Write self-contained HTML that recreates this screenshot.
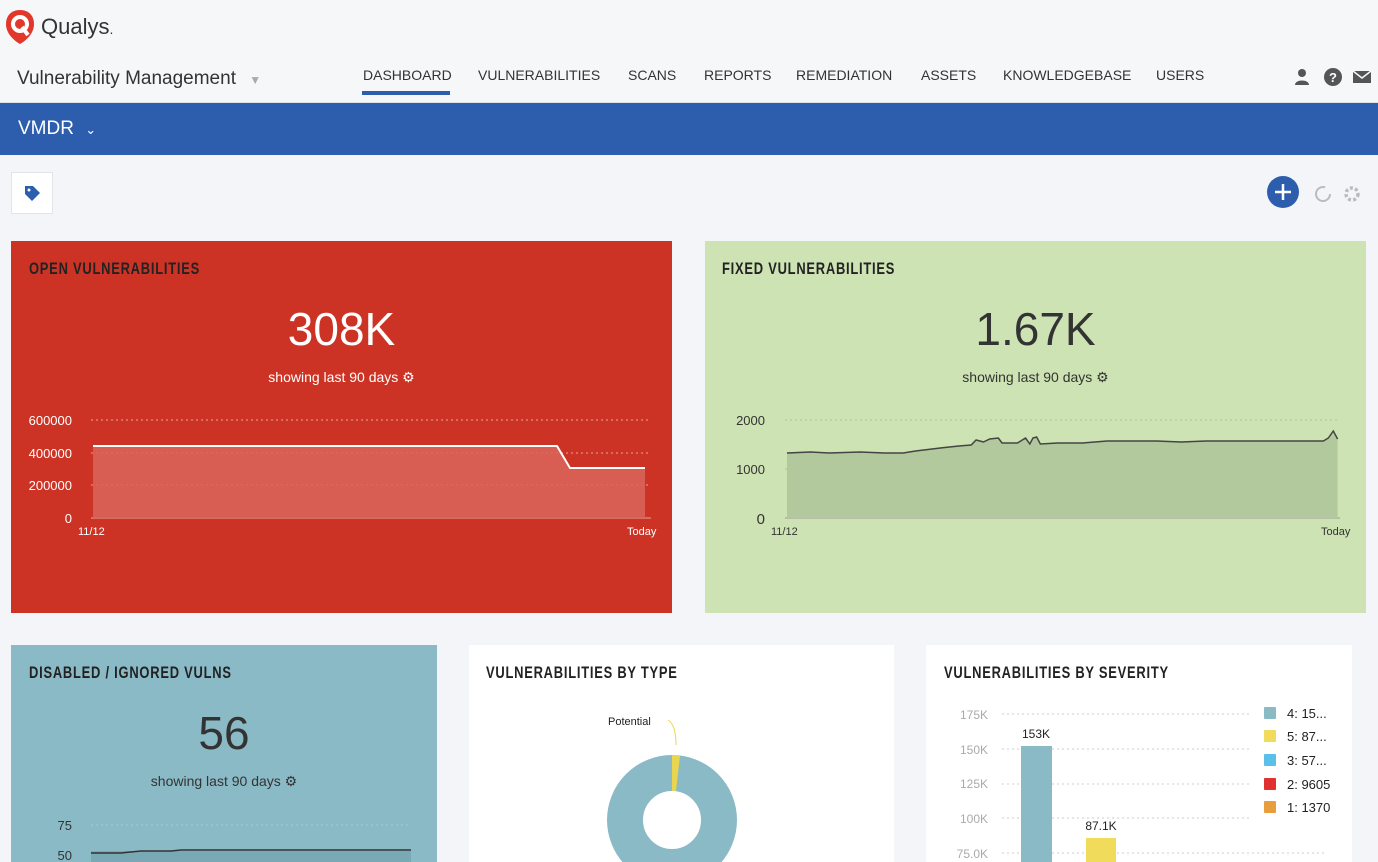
<!DOCTYPE html>
<html><head><meta charset="utf-8"><style>
*{margin:0;padding:0;box-sizing:border-box}
body{width:1378px;height:862px;overflow:hidden;background:#f3f5f8;font-family:"Liberation Sans",sans-serif;position:relative}
.a{position:absolute}
.nav{font-size:14px;color:#333;letter-spacing:0;top:67px}
.title{font-family:"Liberation Sans Narrow","Liberation Sans",sans-serif;font-size:17px;font-weight:bold;letter-spacing:1px;transform:scaleX(.76);transform-origin:left;color:#222;white-space:nowrap}
.card{position:absolute}
.big{font-size:46px;font-weight:300}
</style></head><body>
<div class="a" style="left:0;top:0;width:1378px;height:103px;background:#f6f7f8;border-bottom:1px solid #dfe2e6"></div>
<svg class="a" style="left:4px;top:9px" width="32" height="36" viewBox="0 0 32 36"><path d="M16 1C7 1 2 7 2 15c0 9 7 16 14 20 7-4 14-11 14-20C30 7 25 1 16 1z" fill="#e2372b"/><circle cx="16" cy="15" r="7" fill="none" stroke="#fff" stroke-width="4"/><path d="M18 18l6 8" stroke="#fff" stroke-width="4"/></svg>
<div class="a" style="left:41px;top:14px;font-size:22px;color:#333">Qualys<span style="font-size:14px">.</span></div>
<div class="a" style="left:17px;top:68px;font-size:19px;color:#333">Vulnerability Management <span style="color:#aaa;font-size:12px;margin-left:8px">▼</span></div>
<div class="a nav" style="left:363px">DASHBOARD</div>
<div class="a" style="left:362px;top:91px;width:88px;height:4px;background:#2d5eae"></div>
<div class="a nav" style="left:478px">VULNERABILITIES</div>
<div class="a nav" style="left:628px">SCANS</div>
<div class="a nav" style="left:704px">REPORTS</div>
<div class="a nav" style="left:796px">REMEDIATION</div>
<div class="a nav" style="left:921px">ASSETS</div>
<div class="a nav" style="left:1003px">KNOWLEDGEBASE</div>
<div class="a nav" style="left:1156px">USERS</div>
<svg class="a" style="left:1292px;top:67px" width="80" height="20"><circle cx="10" cy="6" r="4" fill="#555"/><path d="M3 18c0-6 14-6 14 0z" fill="#555"/><circle cx="41" cy="10" r="9" fill="#555"/><text x="41" y="15" fill="#fff" font-size="13" font-weight="bold" text-anchor="middle" font-family="Liberation Sans">?</text><rect x="61" y="4" width="18" height="12" fill="#555"/><path d="M61 4l9 7 9-7" stroke="#f6f7f8" fill="none" stroke-width="1.5"/></svg>
<div class="a" style="left:0;top:103px;width:1378px;height:52px;background:#2d5eae"></div>
<div class="a" style="left:18px;top:118px;font-size:19px;color:#fff">VMDR <span style="font-size:13px;margin-left:6px">⌄</span></div>
<div class="a" style="left:11px;top:172px;width:42px;height:42px;background:#fff;border:1px solid #e2e4e8"></div>
<svg class="a" style="left:23px;top:184px" width="18" height="18"><path d="M2 2h8l7 7-8 8-7-7z" fill="#2d5eae"/><circle cx="6" cy="6" r="1.5" fill="#fff"/></svg>
<svg class="a" style="left:1265px;top:174px" width="100" height="38"><circle cx="18" cy="18" r="16" fill="#2d5eae"/><path d="M18 10v16M10 18h16" stroke="#fff" stroke-width="2.5"/><circle cx="58" cy="20" r="7" fill="none" stroke="#bbb" stroke-width="2" stroke-dasharray="35 10"/><circle cx="87" cy="20" r="6" fill="none" stroke="#bbb" stroke-width="3.5" stroke-dasharray="3 2.2"/><circle cx="87" cy="20" r="2.5" fill="#f3f5f8"/></svg>

<!-- red card -->
<div class="card" style="left:11px;top:241px;width:661px;height:372px;background:#cd3325"></div>
<div class="a title" style="left:29px;top:259px">OPEN VULNERABILITIES</div>
<div class="a big" style="left:11px;top:302px;width:661px;text-align:center;color:#fff">308K</div>
<div class="a" style="left:11px;top:369px;width:661px;text-align:center;font-size:14px;color:#fff">showing last 90 days ⚙</div>
<svg class="a" style="left:11px;top:400px" width="661" height="150" font-family="Liberation Sans" font-size="13">
<g fill="#fff" text-anchor="end"><text x="61" y="25">600000</text><text x="61" y="58">400000</text><text x="61" y="90">200000</text><text x="61" y="123">0</text></g>
<g stroke="#e8a39d" stroke-dasharray="2 3"><line x1="80" y1="20" x2="640" y2="20"/><line x1="80" y1="53" x2="640" y2="53"/><line x1="80" y1="85" x2="640" y2="85"/></g>
<line x1="80" y1="118" x2="640" y2="118" stroke="#e8a39d"/>
<path d="M82 46H546L559 68H634V118H82z" fill="#d9655a" fill-opacity=".85"/>
<path d="M82 46H546L559 68H634" stroke="#fff" stroke-width="2" fill="none"/>
<g fill="#fff" font-size="11"><text x="67" y="135">11/12</text><text x="616" y="135">Today</text></g>
</svg>

<!-- green card -->
<div class="card" style="left:705px;top:241px;width:661px;height:372px;background:#cde3b3"></div>
<div class="a title" style="left:722px;top:259px">FIXED VULNERABILITIES</div>
<div class="a big" style="left:705px;top:302px;width:661px;text-align:center;color:#333">1.67K</div>
<div class="a" style="left:705px;top:369px;width:661px;text-align:center;font-size:14px;color:#333">showing last 90 days ⚙</div>
<svg class="a" style="left:705px;top:400px" width="661" height="150" font-family="Liberation Sans" font-size="13">
<g fill="#333" text-anchor="end"><text x="60" y="25">2000</text><text x="60" y="74">1000</text><text x="60" y="124" font-size="15">0</text></g>
<g stroke="#aac59a" stroke-dasharray="2 3"><line x1="80" y1="20" x2="635" y2="20"/><line x1="80" y1="69" x2="635" y2="69"/></g>
<line x1="80" y1="118" x2="635" y2="118" stroke="#999"/>
<g transform="translate(31.3 0) scale(0.618 1)">
<path d="M82 53L120 52L150 53L200 52L240 53L270 53L290 51L330 48L360 46L380 45L388 40L400 42L410 39L424 38L430 43L455 43L468 38L475 44L480 38L486 37L492 44L520 43L560 43L600 41L640 41L680 41L720 42L760 41L800 41L840 41L880 41L920 41L940 41L950 41L958 38L966 31L973 39L973 118L82 118z" fill="#b1c99d"/>
<path d="M82 53L120 52L150 53L200 52L240 53L270 53L290 51L330 48L360 46L380 45L388 40L400 42L410 39L424 38L430 43L455 43L468 38L475 44L480 38L486 37L492 44L520 43L560 43L600 41L640 41L680 41L720 42L760 41L800 41L840 41L880 41L920 41L940 41L950 41L958 38L966 31L973 39" fill="none" stroke="#444" stroke-width="1.5" vector-effect="non-scaling-stroke"/>
</g>
<g fill="#333" font-size="11"><text x="66" y="135">11/12</text><text x="616" y="135">Today</text></g>
</svg>

<!-- teal card -->
<div class="card" style="left:11px;top:645px;width:426px;height:217px;background:#8bbac7"></div>
<div class="a title" style="left:29px;top:663px">DISABLED / IGNORED VULNS</div>
<div class="a big" style="left:11px;top:706px;width:426px;text-align:center;color:#333">56</div>
<div class="a" style="left:11px;top:773px;width:426px;text-align:center;font-size:14px;color:#333">showing last 90 days ⚙</div>
<svg class="a" style="left:11px;top:810px" width="426" height="52" font-family="Liberation Sans" font-size="13">
<g fill="#333" text-anchor="end"><text x="61" y="20">75</text><text x="61" y="50">50</text></g>
<line x1="80" y1="15" x2="400" y2="15" stroke="#a8cbd5" stroke-dasharray="2 3"/>
<rect x="80" y="41" width="320" height="13" fill="#7aa9b6"/>
<path d="M80 43H110L130 41H160L170 40H400" stroke="#333" stroke-width="1.5" fill="none"/>
</svg>

<!-- by type -->
<div class="card" style="left:469px;top:645px;width:425px;height:217px;background:#fff"></div>
<div class="a title" style="left:486px;top:663px">VULNERABILITIES BY TYPE</div>
<svg class="a" style="left:469px;top:700px" width="425" height="162" font-family="Liberation Sans">
<text x="139" y="25" font-size="11" fill="#222">Potential</text>
<path d="M199 20q8 5 8 25" stroke="#e9d64e" fill="none"/>
<circle cx="203" cy="120" r="47" fill="none" stroke="#8bbac7" stroke-width="36"/>
<path d="M203 55A65 65 0 0 1 211 55.5L207 91A29 29 0 0 0 203 91z" fill="#e9d64e"/>
</svg>

<!-- by severity -->
<div class="card" style="left:926px;top:645px;width:426px;height:217px;background:#fff"></div>
<div class="a title" style="left:944px;top:663px">VULNERABILITIES BY SEVERITY</div>
<svg class="a" style="left:926px;top:700px" width="426" height="162" font-family="Liberation Sans" font-size="12">
<g fill="#aaa" text-anchor="end"><text x="62" y="19">175K</text><text x="62" y="54">150K</text><text x="62" y="88">125K</text><text x="62" y="123">100K</text><text x="62" y="158">75.0K</text></g>
<g stroke="#ccc" stroke-dasharray="2 3"><line x1="76" y1="14" x2="325" y2="14"/><line x1="76" y1="49" x2="325" y2="49"/><line x1="76" y1="84" x2="325" y2="84"/><line x1="76" y1="118" x2="325" y2="118"/><line x1="76" y1="153" x2="400" y2="153"/></g>
<rect x="95" y="46" width="31" height="120" fill="#8bbac7"/>
<rect x="160" y="138" width="30" height="30" fill="#f0dc5a"/>
<g fill="#222" text-anchor="middle"><text x="110" y="38">153K</text><text x="175" y="130">87.1K</text></g>
<g font-size="13" fill="#222">
<rect x="338" y="7" width="12" height="12" rx="1" fill="#8bbac7"/><text x="361" y="18">4: 15...</text>
<rect x="338" y="30" width="12" height="12" rx="1" fill="#f0dc5a"/><text x="361" y="41">5: 87...</text>
<rect x="338" y="54" width="12" height="12" rx="1" fill="#5bc0e8"/><text x="361" y="65">3: 57...</text>
<rect x="338" y="78" width="12" height="12" rx="1" fill="#e03030"/><text x="361" y="89">2: 9605</text>
<rect x="338" y="101" width="12" height="12" rx="1" fill="#ea9d3c"/><text x="361" y="112">1: 1370</text>
</g>
</svg>
</body></html>
